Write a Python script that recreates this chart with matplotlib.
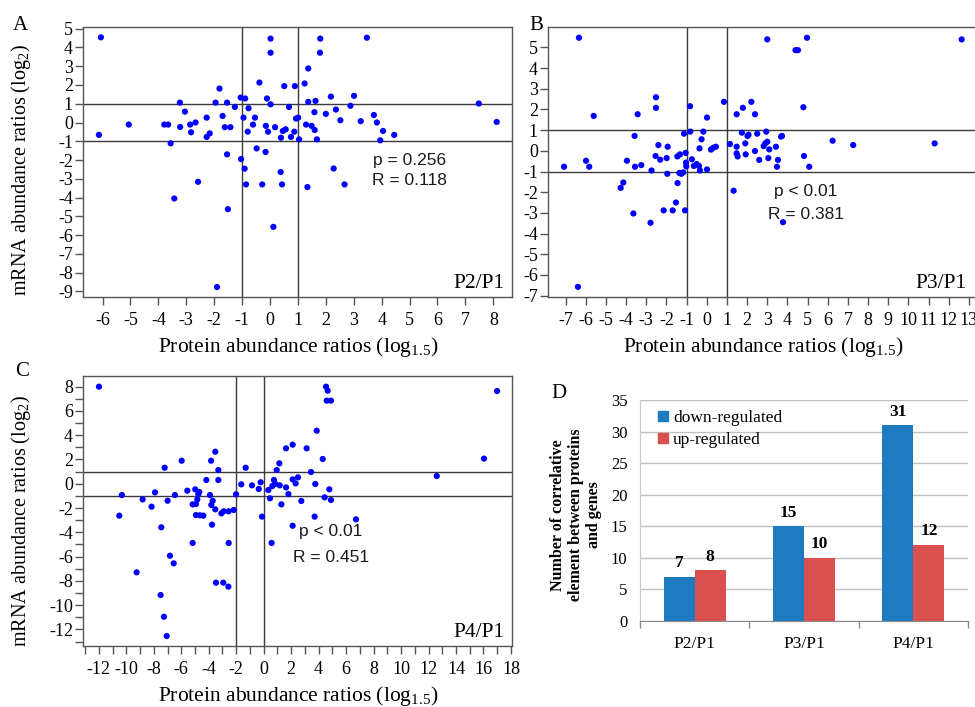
import matplotlib
matplotlib.use("Agg")
import matplotlib.pyplot as plt
from matplotlib.ticker import FixedLocator
from matplotlib.patches import Patch

plt.rcParams['font.family'] = ['Liberation Serif', 'DejaVu Serif']
plt.rcParams['axes.unicode_minus'] = False
plt.rcParams['mathtext.fontset'] = 'custom'
plt.rcParams['mathtext.rm'] = 'Liberation Serif'
plt.rcParams['mathtext.it'] = 'Liberation Serif:italic'
plt.rcParams['mathtext.bf'] = 'Liberation Serif:bold'

# ---- P2/P1 : protein (log1.5) vs mRNA (log2) ----
p2_protein = [-6.06, -6.13, -5.06, -3.79, -3.65, -3.23, -3.05, -3.22, -2.86, -2.67,
              -2.83, -3.56, -3.43, -2.58, -2.27, -2.27, -2.16, -1.95, -1.81, -1.70,
              -1.54, -1.62, -1.42, -1.54, -1.51, -1.90, -1.26, -1.05, -0.89, -0.95,
              -0.77, -0.80, -1.04, -0.91, -0.86, -0.54, -0.61, -0.48, -0.38, -0.11,
              0.02, -0.15, -0.07, -0.16, -0.28, 0.02, 0.02, 0.18, 0.12, 0.51,
              0.38, 0.43, 0.39, 0.46, 0.56, 0.68, 0.75, 0.87, 0.89, 0.93,
              1.01, 1.04, 1.24, 1.37, 1.37, 1.29, 1.49, 1.60, 1.59, 1.63,
              1.68, 1.34, 1.80, 1.79, 2.00, 2.18, 2.36, 2.28, 2.52, 2.67,
              2.88, 3.01, 3.25, 3.47, 3.72, 3.83, 4.05, 3.95, 4.45, 7.48, 8.12]
p2_mrna = [4.54, -0.66, -0.11, -0.11, -0.11, 1.06, 0.58, -0.24, -0.11, 0.00,
           -0.52, -1.11, -4.05, -3.16, 0.26, -0.77, -0.58, 1.06, 1.81, 0.35,
           1.06, -0.25, -0.25, -1.70, -4.62, -8.77, 0.83, 1.33, 1.28, 0.26,
           0.76, -0.49, -1.95, -2.46, -3.30, 0.26, -0.11, -1.38, 2.13, 1.28,
           0.97, -0.18, -0.49, -1.57, -3.30, 4.47, 3.72, -0.25, -5.56, 1.94,
           -2.64, -3.30, -0.81, -0.45, -0.36, 0.83, -0.77, -0.49, 1.94, 0.21,
           0.26, -0.90, 2.08, 2.88, 1.10, -0.11, -0.18, -0.40, 0.55, 1.15,
           -0.90, -3.44, 4.47, 3.72, 0.46, 1.38, 0.69, -2.45, 0.12, -3.30,
           0.89, 1.42, 0.07, 4.52, 0.40, 0.00, -0.45, -0.95, -0.66, 1.01, 0.03]

# ---- P3/P1 ----
p3_protein = [-6.34, -6.39, -7.08, -5.99, -5.83, -5.61, -4.27, -4.14, -3.96, -3.58,
              -3.56, -3.43, -3.64, -3.25, -2.79, -2.74, -2.52, -2.52, -2.40, -2.54,
              -2.31, -1.99, -1.94, -1.96, -2.14, -1.69, -1.53, -1.45, -1.46, -1.33,
              -1.36, -1.26, -1.17, -1.05, -1.13, -1.03, -1.02, -1.08, -0.83, -0.82,
              -0.74, -0.64, -0.50, -0.39, -0.34, -0.36, -0.26, -0.17, 0.01, 0.01,
              0.21, 0.32, 0.45, 0.85, 1.15, 1.33, 1.48, 1.48, 1.48, 1.53,
              1.74, 1.79, 1.91, 1.93, 2.02, 2.07, 2.21, 2.39, 2.39, 2.50,
              2.60, 2.82, 2.90, 2.95, 3.00, 3.00, 3.05, 3.10, 3.43, 3.48,
              3.53, 3.68, 3.73, 3.78, 4.40, 4.52, 4.97, 4.79, 4.82, 5.08,
              6.24, 7.26, 11.30, 12.64]
p3_mrna = [5.47, -6.58, -0.77, -0.48, -0.77, 1.69, -1.79, -1.53, -0.48, 0.72,
           -0.77, 1.77, -3.03, -0.69, -3.48, -0.95, 2.59, 2.08, 0.28, -0.25,
           -0.43, -0.35, 0.20, -1.11, -2.88, -2.88, -2.50, -1.56, -0.27, -0.17,
           -1.07, -1.11, -1.04, -0.10, 0.83, -0.57, -0.75, -2.88, 2.16, 0.93,
           -0.41, -0.73, -0.64, -0.73, -0.95, 0.12, 0.56, 0.93, 1.61, -0.90,
           0.06, 0.15, 0.20, 2.37, 0.33, -1.93, 1.77, 0.20, -0.12, -0.27,
           0.88, 2.08, 0.36, -0.17, 0.72, 0.78, 2.37, 1.77, -0.01, 0.83,
           -0.44, 0.23, 0.36, 0.93, 0.44, 5.39, -0.35, 0.07, 0.20, -0.77,
           -0.44, 0.69, 0.72, -3.45, 4.87, 4.87, 5.47, 2.11, -0.25, -0.77,
           0.49, 0.28, 0.36, 5.39]

# ---- P4/P1 ----
p4_protein = [-11.99, -10.51, -10.32, -9.25, -8.81, -8.16, -7.91, -7.50, -7.45, -7.26,
              -7.21, -7.06, -6.99, -6.82, -6.55, -6.46, -5.97, -5.56, -5.17, -5.17,
              -4.98, -4.93, -4.93, -4.83, -4.76, -4.69, -4.64, -4.39, -4.17, -3.91,
              -3.83, -3.81, -3.71, -3.76, -3.52, -3.52, -3.47, -3.30, -3.30, -3.08,
              -2.94, -2.91, -2.57, -2.55, -2.55, -2.18, -2.01, -1.63, -1.31, -0.85,
              -0.36, -0.22, -0.12, 0.34, 0.46, 0.58, 0.63, 0.75, 0.85, 0.95,
              1.17, 1.14, 1.29, 1.63, 1.63, 1.80, 2.11, 2.11, 2.11, 2.33,
              2.50, 2.74, 3.13, 3.45, 3.76, 3.71, 3.86, 4.30, 4.44, 4.54,
              4.66, 4.59, 4.90, 4.78, 4.90, 6.72, 12.60, 16.04, 16.99]
p4_mrna = [8.00, -2.63, -0.93, -7.30, -1.29, -1.89, -0.71, -9.17, -3.59, -10.96,
           1.32, -12.55, -1.40, -5.93, -6.56, -0.93, 1.90, -0.57, -4.88, -1.70,
           -0.46, -1.67, -2.58, -1.29, -0.85, -0.68, -2.60, -2.63, 0.31, -0.93,
           1.90, -1.75, -1.40, -3.37, 2.64, -2.11, -8.15, 1.13, 0.31, -2.44,
           -8.15, -2.27, -8.48, -2.27, -4.88, -2.16, -0.87, -0.05, 1.32, -0.13,
           -0.43, 0.12, -2.71, -0.52, -1.20, -4.88, -0.19, 0.31, -0.02, 1.13,
           -0.13, 1.68, -1.70, -0.30, 2.92, -0.85, 3.22, 0.36, -3.46, 0.03,
           0.53, -1.42, 2.92, 0.97, -0.02, -2.71, 4.37, 2.04, -1.12, 8.00,
           7.67, 6.85, 6.85, -0.46, -1.34, -2.93, 0.64, 2.07, 7.64]

# ---- counts of correlated proteins/genes ----
comparisons = ["P2/P1", "P3/P1", "P4/P1"]
down_regulated = [7, 15, 31]
up_regulated = [8, 10, 12]

W, H = 975, 707
fig = plt.figure(figsize=(W / 100, H / 100), dpi=100)


def box(l, t, r, b):
    return [l / W, 1 - b / H, (r - l) / W, (b - t) / H]


XLAB = r"Protein abundance ratios (log$_{1.5}$)"
YLAB = r"mRNA abundance ratios (log$_{2}$)"
SPINE = "#555555"


def scatter_panel(ax, x, y, xlim, ylim, vlines, hlines, name, p_txt, r_txt,
                  p_pos, r_pos, xmajor, ymajor, xminor=None, yminor=None,
                  ylabel=True):
    ax.scatter(x, y, s=20, color="#0000FF", edgecolors="none", zorder=3)
    for v in vlines:
        ax.axvline(v, color="#3a3a3a", lw=1.0, zorder=2)
    for h in hlines:
        ax.axhline(h, color="#3a3a3a", lw=1.0, zorder=2)
    ax.set_xlim(*xlim)
    ax.set_ylim(*ylim)
    ax.xaxis.set_major_locator(FixedLocator(xmajor))
    ax.yaxis.set_major_locator(FixedLocator(ymajor))
    if xminor is not None:
        ax.xaxis.set_minor_locator(FixedLocator(xminor))
    if yminor is not None:
        ax.yaxis.set_minor_locator(FixedLocator(yminor))
    for s in ax.spines.values():
        s.set_color(SPINE)
        s.set_linewidth(1.0)
    ax.tick_params(which="both", direction="out", length=6, width=1,
                   color=SPINE, labelsize=13)
    ax.tick_params(axis="x", which="both", pad=5)
    ax.tick_params(axis="y", which="both", pad=1.5)
    ax.set_xlabel(XLAB, fontsize=15.5)
    ax.xaxis.set_label_coords(0.5, -0.14)
    ax.xaxis.label.set_va("top")
    if ylabel:
        ax.set_ylabel(YLAB, fontsize=14.5)
        ax.yaxis.set_label_coords(-0.118, 0.47)
    ax.text(0.981, 0.033, name, transform=ax.transAxes, ha="right",
            va="baseline", fontsize=15.5)
    for txt, pos in ((p_txt, p_pos), (r_txt, r_pos)):
        ax.text(pos[0], pos[1], txt, ha="center", va="center",
                fontsize=12.5, color="#1a1a1a",
                family=["Liberation Sans", "DejaVu Sans"], zorder=4)


# Panel A
axA = fig.add_axes(box(83.3, 27, 512.3, 297))
scatter_panel(axA, p2_protein, p2_mrna, (-6.69, 8.68), (-9.30, 5.09),
              [-1, 1], [-1, 1], "P2/P1", "p = 0.256", "R = 0.118",
              (5.0, -2.0), (5.0, -3.07),
              list(range(-6, 9)), list(range(-9, 6)))

# Panel B (runs off the right edge)
axB = fig.add_axes(box(548.3, 27, 978, 297))
scatter_panel(axB, p3_protein, p3_mrna, (-7.86, 13.45), (-7.07, 5.99),
              [-1, 1], [-1, 1], "P3/P1", "p < 0.01", "R = 0.381",
              (4.92, -1.97), (4.92, -3.06),
              list(range(-7, 14)), list(range(-7, 6)), ylabel=False)
axB.texts[0].set_position((0.974, 0.033))

# Panel C
axC = fig.add_axes(box(83.3, 376, 512.3, 646))
scatter_panel(axC, p4_protein, p4_mrna, (-13.13, 18.1), (-13.37, 8.88),
              [-2, 0], [-1, 1], "P4/P1", "p < 0.01", "R = 0.451",
              (4.90, -3.94), (4.90, -6.08),
              list(range(-12, 19, 2)), list(range(-12, 9, 2)),
              xminor=list(range(-13, 19)), yminor=list(range(-13, 9)))
axC.yaxis.set_label_coords(-0.118, 0.463)

# Panel D
axD = fig.add_axes(box(640, 400, 968, 620.7))
xs = list(range(len(comparisons)))
bw = 0.285
off = 0.142
bars_d = axD.bar([i - off for i in xs], down_regulated, bw, color="#1F7BC0",
                 zorder=3, label="down-regulated")
bars_u = axD.bar([i + off for i in xs], up_regulated, bw, color="#D9504E",
                 zorder=3, label="up-regulated")
for bars, vals in ((bars_d, down_regulated), (bars_u, up_regulated)):
    for b, v in zip(bars, vals):
        axD.annotate(str(v), (b.get_x() + b.get_width() / 2, v),
                     xytext=(0, 4), textcoords="offset points", ha="center",
                     va="bottom", fontsize=12.5, fontweight="bold")
axD.set_xlim(-0.5, 2.5)
axD.set_ylim(0, 35)
axD.set_yticks(range(0, 36, 5))
axD.yaxis.grid(True, color="#C0C0C0", lw=1.0, zorder=0)
axD.set_axisbelow(True)
axD.set_xticks(xs)
axD.set_xticklabels(comparisons)
axD.xaxis.set_minor_locator(FixedLocator([-0.5, 0.5, 1.5, 2.5]))
axD.tick_params(axis="x", which="major", length=0, labelsize=12.5, pad=11)
axD.tick_params(axis="x", which="minor", length=5, width=1, color="#8a8a8a",
                direction="out")
axD.tick_params(axis="y", length=0, labelsize=12, pad=9)
for side in ("top", "right"):
    axD.spines[side].set_visible(False)
axD.spines["left"].set_color("#C8C8C8")
axD.spines["bottom"].set_color("#8a8a8a")
axD.set_ylabel("Number of correlative\nelement between proteins\nand genes",
               fontsize=11.5, fontweight="bold", multialignment="center")
axD.yaxis.set_label_coords(-0.195, 0.48)
axD.yaxis.label.set_va("center")
handles = [Patch(color="#1F7BC0"), Patch(color="#D9504E")]
axD.legend(handles, ["down-regulated", "up-regulated"], loc="upper left",
           bbox_to_anchor=(0.035, 0.985), frameon=False, fontsize=12.5,
           handlelength=0.55, handleheight=0.55, handletextpad=0.3,
           labelspacing=0.35, borderaxespad=0)

# Panel letters
for letter, (px, py) in (("A", (20, 26)), ("B", (536, 25)),
                         ("C", (22, 372)), ("D", (559, 393))):
    fig.text(px / W, 1 - py / H, letter, ha="center", va="center", fontsize=15)

fig.savefig("out.png", dpi=100, facecolor="white")
